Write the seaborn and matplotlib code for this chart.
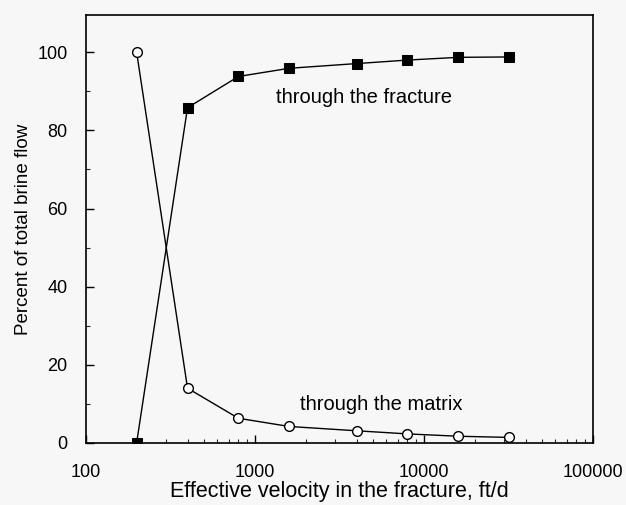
import matplotlib
matplotlib.use("Agg")
import matplotlib.pyplot as plt
import matplotlib.ticker as mticker
import seaborn as sns
import pandas as pd

velocity = [200, 400, 800, 1600, 4000, 8000, 16000, 32000]
fracture = [0, 85.8, 93.8, 95.9, 97.1, 98.0, 98.7, 98.8]
matrix = [100, 14.0, 6.3, 4.2, 3.1, 2.3, 1.7, 1.4]

sns.set_style("ticks")
plt.rcParams['font.family'] = ['Liberation Sans', 'DejaVu Sans']
plt.rcParams['text.color'] = 'black'
plt.rcParams['axes.labelcolor'] = 'black'

bg = "#f7f7f7"
fig = plt.figure(figsize=(6.26, 5.05), dpi=100, facecolor=bg)
ax = fig.add_axes([0.137, 0.123, 0.81, 0.847])
ax.set_facecolor(bg)

df_f = pd.DataFrame({"v": velocity, "p": fracture})
df_m = pd.DataFrame({"v": velocity, "p": matrix})

sns.lineplot(data=df_f, x="v", y="p", ax=ax, color="black", linewidth=1.0,
             marker="s", markersize=7, markerfacecolor="black",
             markeredgecolor="black", zorder=3)
sns.lineplot(data=df_m, x="v", y="p", ax=ax, color="black", linewidth=1.0,
             marker="o", markersize=7, markerfacecolor="white",
             markeredgecolor="black", markeredgewidth=1.0, zorder=3)

ax.set_xscale("log")
ax.set_xlim(100, 100000)
ax.set_ylim(0, 109.5)
ax.xaxis.set_major_locator(mticker.FixedLocator([100, 1000, 10000, 100000]))
ax.xaxis.set_major_formatter(mticker.FuncFormatter(lambda v, p: f"{int(round(v))}"))
ax.xaxis.set_minor_locator(mticker.LogLocator(base=10, subs=range(2, 10)))
ax.xaxis.set_minor_formatter(mticker.NullFormatter())
ax.yaxis.set_major_locator(mticker.MultipleLocator(20))
ax.yaxis.set_minor_locator(mticker.MultipleLocator(10))

ax.tick_params(axis="both", which="major", direction="in", length=6, width=1,
               labelsize=13, colors="black")
ax.tick_params(axis="x", which="major", pad=15)
ax.tick_params(axis="y", which="major", pad=13)
ax.tick_params(axis="both", which="minor", direction="in", length=3, width=0.8)
ax.tick_params(top=False, right=False, which="both")

for s in ax.spines.values():
    s.set_color("black")
    s.set_linewidth(1.2)

ax.set_xlabel("Effective velocity in the fracture, ft/d", fontsize=15.5, labelpad=0)
ax.set_ylabel("Percent of total brine flow", fontsize=13.5, labelpad=4)

ax.text(1330, 88.3, "through the fracture", fontsize=14.5, va="center", ha="left")
ax.text(1845, 9.8, "through the matrix", fontsize=14.5, va="center", ha="left")

fig.savefig("out.png", dpi=100, facecolor=bg)
